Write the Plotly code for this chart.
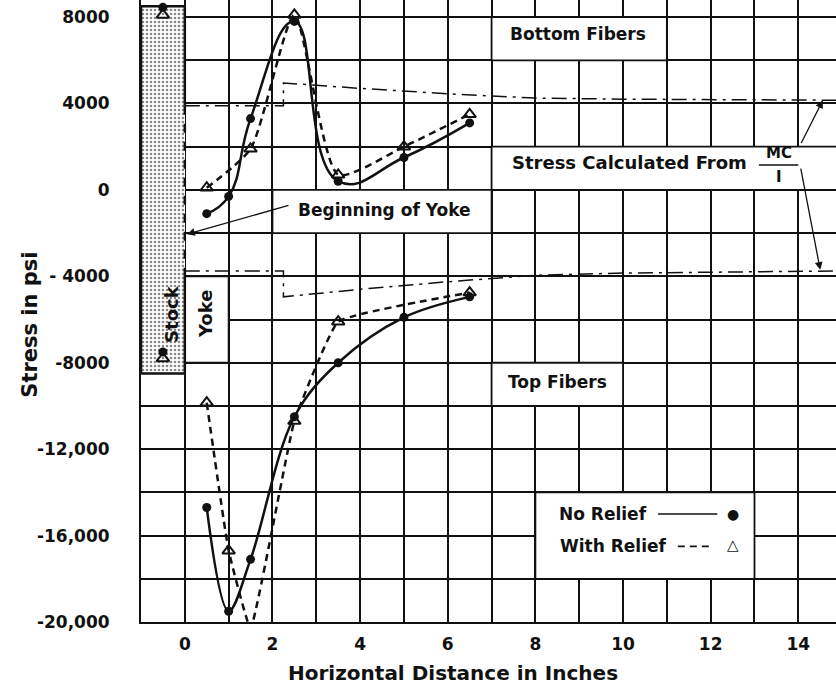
import plotly.graph_objects as go

# ---------------- data ----------------
x_no_relief = [0.5, 1.0, 1.5, 2.5, 3.5, 5.0, 6.5]
bottom_no_relief = [-1100, -300, 3300, 7800, 400, 1500, 3100]
top_no_relief = [-14700, -19500, -17100, -10500, -8000, -5900, -4950]

x_bottom_relief = [0.5, 1.5, 2.5, 3.5, 5.0, 6.5]
bottom_relief = [100, 1900, 8100, 700, 2000, 3500]

x_top_relief = [0.5, 1.0, 1.5, 2.5, 3.5, 6.5]
top_relief = [-9850, -16700, -20300, -10700, -6100, -4750]

stock_x = [-0.5, -0.5]
stock_no_relief = [8450, -7500]
stock_relief = [8100, -7800]

mc_x = [0, 2.25, 2.25, 4, 6, 8, 10, 12, 15]
mc_bottom = [3900, 3900, 4950, 4700, 4450, 4250, 4200, 4170, 4150]
mc_top = [-3750, -3750, -4950, -4600, -4250, -3950, -3850, -3800, -3750]

x_tick_vals = [0, 2, 4, 6, 8, 10, 12, 14]
x_tick_text = ["0", "2", "4", "6", "8", "10", "12", "14"]
y_tick_vals = [8000, 4000, 0, -4000, -8000, -12000, -16000, -20000]
y_tick_text = ["8000", "4000", "0", "- 4000", "-8000", "-12,000", "-16,000", "-20,000"]

FONT = "DejaVu Sans"
BLACK = "#111111"

fig = go.Figure()

# Stock block (stippled)
fig.add_trace(go.Bar(
    x=[-0.5], y=[17000], base=[-8500], width=[1.0],
    marker=dict(color="white",
                pattern=dict(shape=".", fgcolor=BLACK, bgcolor="white", size=4, solidity=0.33),
                line=dict(width=0)),
    showlegend=False, hoverinfo="skip"))

# MC/I lines
for yy in (mc_bottom, mc_top):
    fig.add_trace(go.Scatter(x=mc_x, y=yy, mode="lines",
                             line=dict(color=BLACK, width=1.5, dash="longdashdot"),
                             showlegend=False, hoverinfo="skip"))

# No relief (solid, filled circles)
fig.add_trace(go.Scatter(x=x_no_relief, y=bottom_no_relief, mode="lines+markers",
                         line=dict(color=BLACK, width=2.5, shape="spline", smoothing=1.3),
                         marker=dict(symbol="circle", size=9, color=BLACK),
                         showlegend=False))
fig.add_trace(go.Scatter(x=x_no_relief, y=top_no_relief, mode="lines+markers",
                         line=dict(color=BLACK, width=2.5, shape="spline", smoothing=1.0),
                         marker=dict(symbol="circle", size=9, color=BLACK),
                         showlegend=False))
# With relief (dashed, open triangles)
fig.add_trace(go.Scatter(x=x_bottom_relief, y=bottom_relief, mode="lines+markers",
                         line=dict(color=BLACK, width=2.5, dash="7px,5px", shape="spline", smoothing=0.6),
                         marker=dict(symbol="triangle-up-open", size=11, color=BLACK, line=dict(width=2)),
                         showlegend=False))
fig.add_trace(go.Scatter(x=x_top_relief, y=top_relief, mode="lines",
                         line=dict(color=BLACK, width=2.5, dash="7px,5px", shape="spline", smoothing=0.3),
                         showlegend=False))
fig.add_trace(go.Scatter(x=x_top_relief, y=top_relief, mode="markers",
                         marker=dict(symbol="triangle-up-open", size=11, color=BLACK, line=dict(width=2)),
                         cliponaxis=False, showlegend=False))
# Stock points
fig.add_trace(go.Scatter(x=stock_x, y=stock_no_relief, mode="markers",
                         marker=dict(symbol="circle", size=9, color=BLACK), showlegend=False))
fig.add_trace(go.Scatter(x=stock_x, y=stock_relief, mode="markers",
                         marker=dict(symbol="triangle-up-open", size=11, color=BLACK, line=dict(width=2)),
                         showlegend=False))

shapes = []
# white label boxes that blank out the grid
for (x0, x1, y0, y1) in [(7, 11, 6000, 8000), (7, 15, 0, 2000), (2, 7, -2000, 0),
                         (7, 10, -10000, -8000), (8, 13, -18000, -14000), (0, 1, -8000, -4000)]:
    shapes.append(dict(type="rect", xref="x", yref="y", x0=x0, x1=x1, y0=y0, y1=y1,
                       fillcolor="white", line=dict(color=BLACK, width=1.8), layer="between"))
# stock outline
for (x0, y0, x1, y1, w, d) in [(-1, 8500, 0, 8500, 2.5, "solid"), (0, 8500, 0, 3900, 2.5, "solid"),
                               (0, 3900, 0, -3750, 2.5, "dash"), (0, -3750, 0, -8500, 2.5, "solid"),
                               (-1, -8500, 0, -8500, 2.5, "solid"), (-1, 8500, -1, -8500, 2.5, "solid")]:
    shapes.append(dict(type="line", xref="x", yref="y", x0=x0, y0=y0, x1=x1, y1=y1,
                       line=dict(color=BLACK, width=w, dash=d), layer="above"))
# legend key lines
shapes.append(dict(type="line", xref="x", yref="y", x0=10.8, x1=12.15, y0=-15000, y1=-15000,
                   line=dict(color=BLACK, width=1.5)))
shapes.append(dict(type="line", xref="x", yref="y", x0=11.25, x1=12.05, y0=-16500, y1=-16500,
                   line=dict(color=BLACK, width=1.8, dash="7px,5px")))
# fraction bar MC/I
shapes.append(dict(type="line", xref="x", yref="y", x0=13.1, x1=14.0, y0=1150, y1=1150,
                   line=dict(color=BLACK, width=1.5)))

ann = []
def txt(x, y, s, size=17, angle=0, xanchor="center"):
    ann.append(dict(x=x, y=y, xref="x", yref="y", text=s, showarrow=False, textangle=angle,
                    xanchor=xanchor, font=dict(family=FONT, size=size, color=BLACK)))

txt(8.98, 7200, "<b>Bottom Fibers</b>")
txt(8.5, -8900, "<b>Top Fibers</b>")
txt(10.15, 1250, "<b>Stress Calculated From</b>", size=18)
txt(13.55, 1700, "<b>MC</b>", size=15)
txt(13.55, 600, "<b>I</b>", size=15)
txt(4.55, -950, "<b>Beginning of Yoke</b>")
txt(-0.32, -5750, "<b>Stock</b>", size=18, angle=-90)
txt(0.46, -5750, "<b>Yoke</b>", size=18, angle=-90)
txt(10.6, -15000, "<b>No Relief</b>", xanchor="right")
txt(11.05, -16500, "<b>With Relief</b>", xanchor="right")
txt(12.52, -15000, "●", size=14)
txt(12.52, -16420, "<b>△</b>", size=15)

# axis titles as positioned annotations
ann.append(dict(x=0.449, y=-0.082, xref="paper", yref="paper", text="<b>Horizontal Distance in Inches</b>",
                showarrow=False, xanchor="center", yanchor="middle",
                font=dict(family=FONT, size=20, color=BLACK)))
ann.append(dict(x=-0.16, y=-6250, xref="paper", yref="y", text="<b>Stress in psi</b>", textangle=-90,
                showarrow=False, xanchor="center", yanchor="middle",
                font=dict(family=FONT, size=21, color=BLACK)))

# arrows
ann.append(dict(x=14.56, y=4150, ax=14.05, ay=2100, xref="x", yref="y", axref="x", ayref="y",
                showarrow=True, arrowhead=2, arrowsize=1.2, arrowwidth=1.3, arrowcolor=BLACK, text=""))
ann.append(dict(x=14.5, y=-3700, ax=14.05, ay=1050, xref="x", yref="y", axref="x", ayref="y",
                showarrow=True, arrowhead=2, arrowsize=1.2, arrowwidth=1.3, arrowcolor=BLACK, text=""))
ann.append(dict(x=0.05, y=-2050, ax=2.4, ay=-700, xref="x", yref="y", axref="x", ayref="y",
                showarrow=True, arrowhead=2, arrowsize=1.2, arrowwidth=1.3, arrowcolor=BLACK, text=""))

fig.update_layout(
    width=836, height=690,
    margin=dict(l=141, r=0, t=0, b=68),
    plot_bgcolor="white", paper_bgcolor="white",
    shapes=shapes, annotations=ann,
    font=dict(family=FONT, color=BLACK),
    bargap=0,
)
fig.update_xaxes(
    range=[-1, 14.86], tickvals=x_tick_vals, ticktext=x_tick_text,
    tickfont=dict(family=FONT, size=17, color=BLACK, weight="bold"),
    showgrid=True, gridcolor=BLACK, gridwidth=1.8,
    minor=dict(dtick=1, tick0=0, showgrid=True, gridcolor=BLACK, gridwidth=1.8),
    showline=True, linecolor=BLACK, linewidth=2, zeroline=False, ticks="",
    ticklabelstandoff=6,
)
fig.update_yaxes(
    range=[-20000, 8790], tickvals=y_tick_vals, ticktext=y_tick_text,
    tickfont=dict(family=FONT, size=17, color=BLACK, weight="bold"),
    showgrid=True, gridcolor=BLACK, gridwidth=1.8,
    minor=dict(dtick=2000, tick0=0, showgrid=True, gridcolor=BLACK, gridwidth=1.8),
    showline=True, linecolor=BLACK, linewidth=2, zeroline=False, ticks="",
    ticklabelstandoff=26,
)

fig.write_html("out.html")
